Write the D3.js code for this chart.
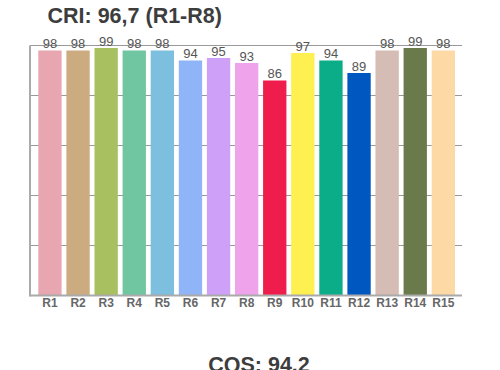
<!DOCTYPE html>
<html><head><meta charset="utf-8">
<script src="https://cdn.jsdelivr.net/npm/d3@7"></script>
<style>body{margin:0;background:#fff;}svg{display:block;font-family:"Liberation Sans",Arial,sans-serif;}</style>
</head><body>
<svg id="c" width="500" height="370"></svg>
<script>
const categories = ["R1","R2","R3","R4","R5","R6","R7","R8","R9","R10","R11","R12","R13","R14","R15"];
const values = [98,98,99,98,98,94,95,93,86,97,94,89,98,99,98];
const colors = ["#e8a7b0","#cdab80","#a9c061","#6fc6a0","#7cbfde","#8fb4f8","#cfa0f8","#eea3ea","#ee1d4c","#fdf050","#0aad88","#0057c0","#d5bdb5","#6a7a4a","#fdd9a5"];
const yTicks = [0,20,40,60,80,100];
const title = "CRI: 96,7 (R1-R8)";
const footer = "CQS: 94,2";

const svg = d3.select("#c");
const x = d3.scaleBand().domain(categories).range([38.3, 455]).paddingInner(0.17).paddingOuter(0);
const y = d3.scaleLinear().domain([0,100]).range([295.5, 45.5]);
const xl = 30, xr = 462;

svg.append("g").selectAll("line").data(yTicks.slice(1)).join("line")
  .attr("x1", xl).attr("x2", xr).attr("y1", d=>y(d)).attr("y2", d=>y(d))
  .attr("stroke", "#999").attr("stroke-width", 1);

svg.append("g").selectAll("rect").data(values).join("rect")
  .attr("x", (d,i)=>x(categories[i])).attr("width", x.bandwidth())
  .attr("y", d=>y(d)).attr("height", d=>y(0)-y(d))
  .attr("fill", (d,i)=>colors[i]);

svg.append("line").attr("x1", xl).attr("x2", xl).attr("y1", y(100)).attr("y2", y(0)+1)
  .attr("stroke", "#aaa").attr("stroke-width", 2);
svg.append("line").attr("x1", xl).attr("x2", xr).attr("y1", y(0)).attr("y2", y(0))
  .attr("stroke", "#aaa").attr("stroke-width", 2);

svg.append("g").selectAll("text").data(values).join("text")
  .attr("x", (d,i)=>x(categories[i]) + x.bandwidth()/2)
  .attr("y", d=>y(d) - 2.5)
  .attr("text-anchor", "middle").attr("font-size", 13).attr("fill", "#555")
  .text(d=>d);

const xAxis = d3.axisBottom(x).tickSize(0).tickPadding(0);
const gx = svg.append("g").attr("transform", `translate(0,${y(0)})`).call(xAxis);
gx.select(".domain").remove();
gx.selectAll("text").attr("dy", null).attr("y", 11.5)
  .attr("font-size", 12).attr("font-weight", "bold").attr("fill", "#666")
  .attr("font-family", '"Liberation Sans",Arial,sans-serif');

svg.append("text").attr("x", 47.5).attr("y", 23).attr("font-size", 21.5).attr("font-weight", "bold")
  .attr("fill", "#3d3d3d").text(title);
svg.append("text").attr("x", 259).attr("y", 372).attr("text-anchor", "middle").attr("font-size", 21.5).attr("font-weight", "bold")
  .attr("fill", "#3d3d3d").text(footer);
</script>
</body></html>
